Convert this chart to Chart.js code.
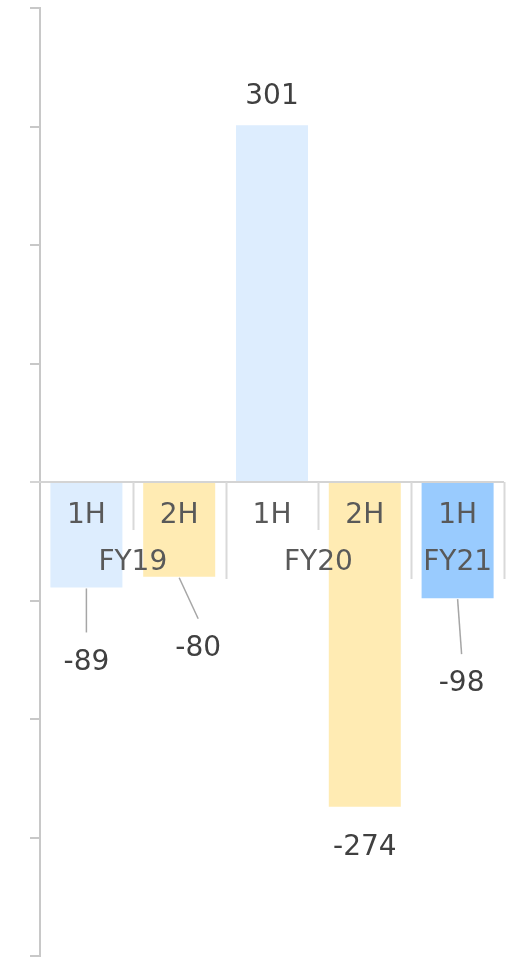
<!DOCTYPE html>
<html>
<head>
<meta charset="utf-8">
<script src="https://cdn.jsdelivr.net/npm/chart.js@4/dist/chart.umd.min.js"></script>
<style>
  html, body { margin: 0; padding: 0; background: #ffffff; }
  #wrap { width: 514px; height: 957px; position: relative; }
</style>
</head>
<body>
<div id="wrap"><canvas id="c"></canvas></div>
<script>
// ---- data ----
const halfLabels = ["1H", "2H", "1H", "2H", "1H"];
const fyGroups = ["FY19", "FY19", "FY20", "FY20", "FY21"];
const values = [-89, -80, 301, -274, -98];
const yTicks = [-400, -300, -200, -100, 0, 100, 200, 300, 400];

// ---- styles ----
const barColors = ["#ddedfe", "#ffebb3", "#ddedfe", "#ffebb3", "#99cbfe"];
const catColor = "#595959";
const valColor = "#404040";
const FONT = "28px 'DejaVu Sans', Verdana, sans-serif";
// label placement relative to bar end (px)
const labelPlace = [
  { dx: 0, dy: 72, leader: true },
  { dx: 19, dy: 69, leader: true },
  { dx: 0, dy: -32, leader: false },
  { dx: 0, dy: 38, leader: false },
  { dx: 4, dy: 83, leader: true }
];

const overlay = {
  id: 'overlay',
  afterDatasetsDraw(chart) {
    const ctx = chart.ctx;
    const x = chart.scales.x, y = chart.scales.y;
    const ca = chart.chartArea;
    const y0 = y.getPixelForValue(0);
    const n = halfLabels.length;
    const cw = (ca.right - ca.left) / n;
    ctx.save();
    // zero line
    ctx.strokeStyle = "#d4d4d4";
    ctx.lineWidth = 2;
    ctx.beginPath();
    ctx.moveTo(ca.left - 10, y0);
    ctx.lineTo(ca.right, y0);
    ctx.stroke();
    // separators
    ctx.strokeStyle = "#d9d9d9";
    for (let i = 1; i <= n; i++) {
      const bx = Math.round(ca.left + cw * i) + 0.5;
      const long = (i === n) || fyGroups[i] !== fyGroups[i - 1];
      ctx.beginPath();
      ctx.moveTo(bx, y0);
      ctx.lineTo(bx, y0 + (long ? 97 : 48));
      ctx.stroke();
    }
    // category labels
    ctx.fillStyle = catColor;
    ctx.font = FONT;
    ctx.textAlign = "center";
    ctx.textBaseline = "middle";
    for (let i = 0; i < n; i++) {
      ctx.fillText(halfLabels[i], x.getPixelForValue(i), y0 + 34);
    }
    // group labels
    let s = 0;
    for (let i = 1; i <= n; i++) {
      if (i === n || fyGroups[i] !== fyGroups[s]) {
        const cx = (x.getPixelForValue(s) + x.getPixelForValue(i - 1)) / 2;
        ctx.fillText(fyGroups[s], cx, y0 + 81);
        s = i;
      }
    }
    // value labels
    const meta = chart.getDatasetMeta(0);
    meta.data.forEach((bar, i) => {
      const p = labelPlace[i];
      const tx = bar.x + p.dx;
      const ty = bar.y + p.dy + 3;
      if (p.leader) {
        ctx.strokeStyle = "#a6a6a6";
        ctx.lineWidth = 1.5;
        ctx.beginPath();
        ctx.moveTo(bar.x, bar.y + 1);
        ctx.lineTo(tx, ty - 30);
        ctx.stroke();
      }
      ctx.fillStyle = valColor;
      ctx.fillText(String(values[i]), tx, ty);
    });
    ctx.restore();
  }
};

new Chart(document.getElementById('c'), {
  type: 'bar',
  data: {
    labels: halfLabels.map((h, i) => h + " " + fyGroups[i]),
    datasets: [{
      data: values,
      backgroundColor: barColors,
      borderWidth: 0,
      barPercentage: 0.776,
      categoryPercentage: 1
    }]
  },
  options: {
    responsive: true,
    maintainAspectRatio: false,
    animation: false,
    layout: { padding: { top: 8, bottom: 1, right: 10, left: 0 } },
    plugins: { legend: { display: false }, tooltip: { enabled: false } },
    scales: {
      x: { display: false },
      y: {
        min: -400, max: 400,
        afterBuildTicks(scale) { scale.ticks = yTicks.map(v => ({ value: v })); },
        afterFit(scale) { scale.width = 40; },
        ticks: { display: false },
        grid: {
          drawOnChartArea: false,
          drawTicks: true,
          tickLength: 10,
          color: "#c8c8c8",
          lineWidth: 2
        },
        border: { display: true, color: "#c8c8c8", width: 2 }
      }
    }
  },
  plugins: [overlay]
});
</script>
</body>
</html>
